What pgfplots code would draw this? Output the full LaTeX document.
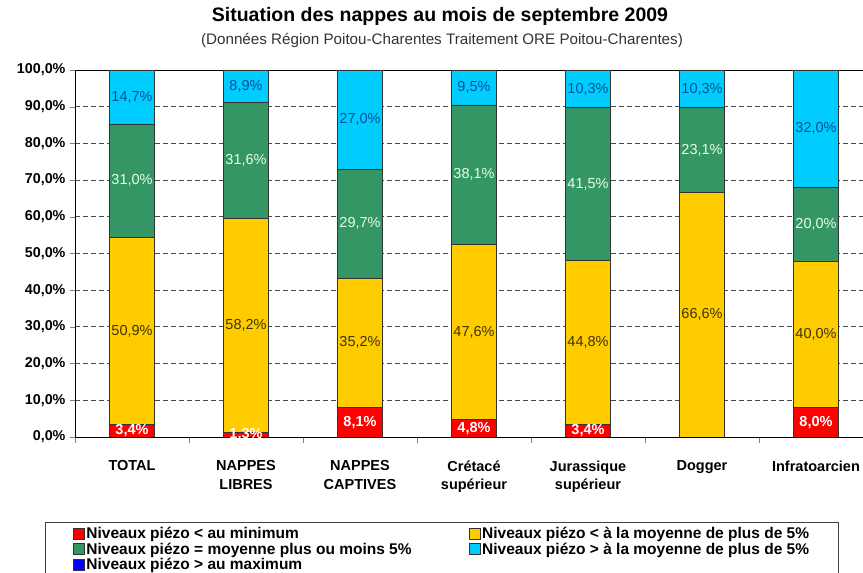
\documentclass[border=0pt]{standalone}
\usepackage{fontspec}
\setmainfont{Liberation Sans}
\usepackage{pgfplots}
\pgfplotsset{compat=1.18}

\definecolor{cRed}{RGB}{255,0,0}
\definecolor{cYel}{RGB}{255,204,0}
\definecolor{cGrn}{RGB}{51,150,100}
\definecolor{cCya}{RGB}{0,204,255}
\definecolor{cBlu}{RGB}{0,0,255}

\begin{document}
\begin{tikzpicture}[x=1pt,y=1pt]
\path[use as bounding box] (0,0) rectangle (863,573);
\node[font=\fontsize{19.5}{19.5}\selectfont\bfseries] at (440,557) {Situation des nappes au mois de septembre 2009};
\node[font=\fontsize{15.2}{15.2}\selectfont, text=black!80] at (442,533) {(Données Région Poitou-Charentes Traitement ORE Poitou-Charentes)};
\begin{axis}[
  at={(75pt,136pt)}, anchor=south west,
  width=798pt, height=367pt, scale only axis,
  ybar stacked, bar width=45pt,
  xmin=-0.5, xmax=6.5, ymin=0, ymax=100,
  xtick={0,...,6},
  xticklabels={TOTAL,{NAPPES\\LIBRES},{NAPPES\\CAPTIVES},{Crétacé\\supérieur},{Jurassique\\supérieur},Dogger,Infratoarcien},
  minor xtick={-0.5,0.5,...,6.5},
  major x tick style={draw=none},
  minor tick length=6pt, major tick length=5pt,
  tick align=outside, tick pos=left,
  ytick={0,10,...,100},
  ymajorgrids,
  major grid style={black!70, line width=0.8pt, dash pattern=on 5pt off 3pt},
  axis line style={line width=0.9pt},
  /pgf/number format/assume math mode=true,
  yticklabel={\pgfmathprintnumber[fixed,fixed zerofill,precision=1,use comma]{\tick}\%},
  yticklabel style={font=\fontsize{14.3}{14.3}\selectfont\bfseries, xshift=-1pt},
  xticklabel style={align=center, font=\fontsize{14.5}{18.5}\selectfont\bfseries, yshift=-15pt},
  point meta=explicit symbolic,
  nodes near coords={\ifdim\pgfplotspointmeta pt>0pt\pgfmathprintnumber[fixed,fixed zerofill,precision=1,use comma]{\pgfplotspointmeta}\%\fi},
  every node near coord/.append style={anchor=center, font=\fontsize{14.5}{14.5}\selectfont},
  every axis plot post/.append style={draw=black!80, line width=0.6pt,
    legend image code/.code={\draw[##1, draw=black!80, line width=0.6pt] (0pt,-5.5pt) rectangle (11pt,5.5pt);}},
  legend columns=2, legend cell align=left,
  legend style={at={(-0.0376,-0.2316)}, anchor=north west, draw=black!75, line width=0.8pt,
    font=\fontsize{15.5}{15.5}\selectfont\bfseries, inner xsep=28pt, inner ysep=4pt,
    nodes={inner xsep=1.5pt, inner ysep=1.2pt},
    /tikz/every even column/.append style={column sep=56pt},
    row sep=0pt},
]
\addplot[fill=cRed, every node near coord/.append style={text=white, font=\fontsize{14.5}{14.5}\selectfont\bfseries}] coordinates {
  (0,3.4) [3.4] (1,1.3) [1.3] (2,8.1) [8.1] (3,4.8) [4.8] (4,3.4) [3.4] (5,0) [0] (6,8.0) [8.0]
};
\addlegendentry{Niveaux piézo < au minimum}
\addplot[fill=cYel, every node near coord/.append style={text=black!75!cYel}] coordinates {
  (0,50.9) [50.9] (1,58.2) [58.2] (2,35.2) [35.2] (3,47.6) [47.6] (4,44.8) [44.8] (5,66.6) [66.6] (6,40.0) [40.0]
};
\addlegendentry{Niveaux piézo < à la moyenne de plus de 5\%}
\addplot[fill=cGrn, every node near coord/.append style={text=green!10!white}] coordinates {
  (0,31.0) [31.0] (1,31.6) [31.6] (2,29.7) [29.7] (3,38.1) [38.1] (4,41.5) [41.5] (5,23.1) [23.1] (6,20.0) [20.0]
};
\addlegendentry{Niveaux piézo = moyenne plus ou moins 5\%}
\addplot[fill=cCya, every node near coord/.append style={text=black!70!blue!60!cCya}] coordinates {
  (0,14.7) [14.7] (1,8.9) [8.9] (2,27.0) [27.0] (3,9.5) [9.5] (4,10.3) [10.3] (5,10.3) [10.3] (6,32.0) [32.0]
};
\addlegendentry{Niveaux piézo > à la moyenne de plus de 5\%}
\addlegendimage{fill=cBlu}
\addlegendentry{Niveaux piézo > au maximum}
\end{axis}
\end{tikzpicture}
\end{document}
